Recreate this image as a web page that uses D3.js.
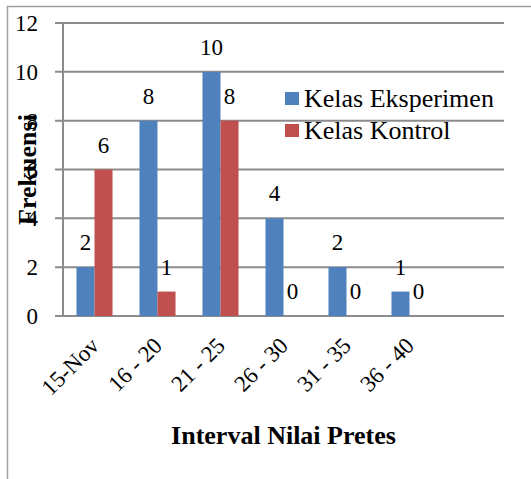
<!DOCTYPE html>
<html>
<head>
<meta charset="utf-8">
<script src="https://cdn.jsdelivr.net/npm/d3@7"></script>
<style>
  body { margin: 0; background: #fff; }
  svg { display: block; }
  svg text { font-family: 'Liberation Serif', 'Times New Roman', serif; fill: #000; }
</style>
</head>
<body>
<div class="chart"></div>
<script>
// data
const categories = ['15-Nov', '16 - 20', '21 - 25', '26 - 30', '31 - 35', '36 - 40'];
const seriesNames = ['Kelas Eksperimen', 'Kelas Kontrol'];
const eksperimen = [2, 8, 10, 4, 2, 1];
const kontrol = [6, 1, 8, 0, 0, 0];
const yTicks = [0, 2, 4, 6, 8, 10, 12];
const colors = ['#4f81bd', '#c0504d'];

const W = 531, H = 479;
const gridColor = '#8c8c8c';

const svg = d3.select('.chart').append('svg')
    .attr('width', W)
    .attr('height', H);

// outer frame (top + left only)
svg.append('path')
    .attr('d', 'M7.5,479 V6.5 H531')
    .attr('fill', 'none')
    .attr('stroke', '#a0a0a0')
    .attr('stroke-width', 1.5);

const plot = {left: 63, right: 504, top: 23, bottom: 316};

// the sheet had an empty 7th row, so the plot keeps room for it
const x0 = d3.scaleBand()
    .domain(categories.concat(['']))
    .range([plot.left, plot.right]);

const x1 = d3.scaleBand()
    .domain(seriesNames)
    .range([x0.bandwidth() * 0.214, x0.bandwidth() * 0.786]);

const y = d3.scaleLinear()
    .domain([0, 12])
    .range([plot.bottom, plot.top]);

// grid + ticks
svg.append('g')
    .selectAll('line')
    .data(yTicks)
    .enter()
    .append('line')
    .attr('x1', plot.left - 8)
    .attr('x2', plot.right)
    .attr('y1', d => y(d))
    .attr('y2', d => y(d))
    .attr('stroke', gridColor)
    .attr('stroke-width', 2);

svg.append('line')
    .attr('x1', plot.left)
    .attr('x2', plot.left)
    .attr('y1', plot.top)
    .attr('y2', plot.bottom)
    .attr('stroke', gridColor)
    .attr('stroke-width', 2);

// y tick labels
svg.append('g')
    .selectAll('text')
    .data(yTicks)
    .enter()
    .append('text')
    .attr('x', 38)
    .attr('y', d => y(d) + 8)
    .attr('text-anchor', 'end')
    .style('font-size', '23px')
    .text(d => d);

// bars
const rows = categories.map((c, i) => ({cat: c, vals: [eksperimen[i], kontrol[i]]}));

const groups = svg.append('g')
    .selectAll('g')
    .data(rows)
    .enter()
    .append('g')
    .attr('transform', d => 'translate(' + x0(d.cat) + ',0)');

groups.selectAll('rect')
    .data(d => d.vals.map((v, j) => ({name: seriesNames[j], v: v, j: j})))
    .enter()
    .append('rect')
    .attr('x', d => x1(d.name))
    .attr('width', x1.bandwidth())
    .attr('y', d => y(d.v))
    .attr('height', d => y(0) - y(d.v))
    .attr('fill', d => colors[d.j]);

groups.selectAll('text')
    .data(d => d.vals.map((v, j) => ({name: seriesNames[j], v: v, j: j})))
    .enter()
    .append('text')
    .attr('x', d => x1(d.name) + x1.bandwidth() / 2)
    .attr('y', d => y(d.v) - 17)
    .attr('text-anchor', 'middle')
    .style('font-size', '23px')
    .text(d => d.v);

// x tick labels, rotated
svg.append('g')
    .selectAll('text')
    .data(categories)
    .enter()
    .append('text')
    .attr('transform', d => 'translate(' + (x0(d) + x0.bandwidth() / 2 + 6) + ',' + (plot.bottom + 31) + ') rotate(-45)')
    .attr('text-anchor', 'end')
    .style('font-size', '23px')
    .text(d => d);

// axis titles
svg.append('text')
    .attr('x', (plot.left + plot.right) / 2)
    .attr('y', 444)
    .attr('text-anchor', 'middle')
    .style('font-weight', 'bold')
    .style('font-size', '26px')
    .text('Interval Nilai Pretes');

svg.append('text')
    .attr('transform', 'translate(36,' + ((plot.top + plot.bottom) / 2) + ') rotate(-90)')
    .attr('text-anchor', 'middle')
    .style('font-weight', 'bold')
    .style('font-size', '26px')
    .text('Frekuensi');

// legend
const legend = svg.append('g')
    .selectAll('g')
    .data(seriesNames)
    .enter()
    .append('g')
    .attr('transform', (d, i) => 'translate(285,' + (92 + i * 32) + ')');

legend.append('rect')
    .attr('width', 14)
    .attr('height', 13)
    .attr('fill', (d, i) => colors[i]);

legend.append('text')
    .attr('x', 19)
    .attr('y', 15)
    .style('font-size', '26px')
    .text(d => d);
</script>
</body>
</html>
